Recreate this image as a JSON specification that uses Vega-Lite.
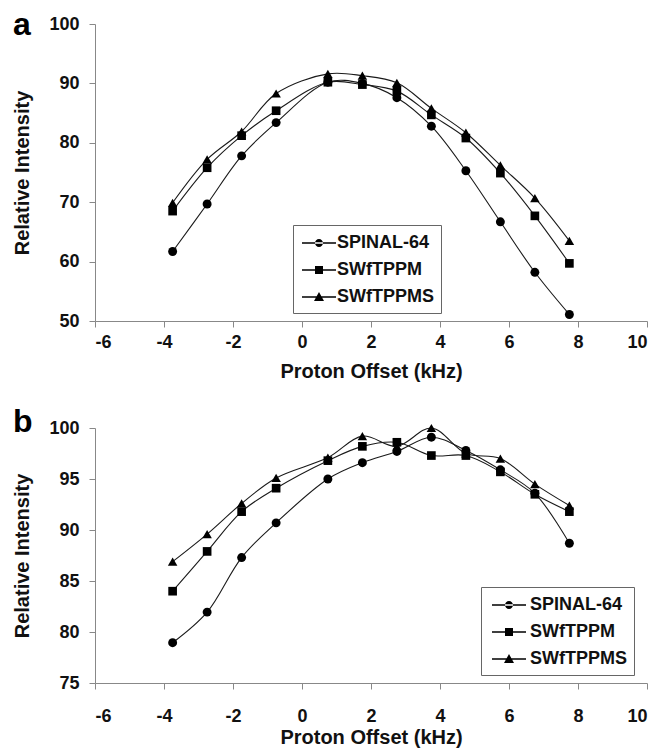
{
  "$schema": "https://vega.github.io/schema/vega-lite/v6.json",
  "padding": {"left": 12, "top": 9, "right": 5, "bottom": 2},
  "background": "white",
  "datasets": {
    "panelA": [
      {"x": -3.75, "y": 61.7, "series": "SPINAL-64"},
      {"x": -2.75, "y": 69.7, "series": "SPINAL-64"},
      {"x": -1.75, "y": 77.8, "series": "SPINAL-64"},
      {"x": -0.75, "y": 83.4, "series": "SPINAL-64"},
      {"x": 0.75, "y": 90.2, "series": "SPINAL-64"},
      {"x": 1.75, "y": 90.0, "series": "SPINAL-64"},
      {"x": 2.75, "y": 87.6, "series": "SPINAL-64"},
      {"x": 3.75, "y": 82.8, "series": "SPINAL-64"},
      {"x": 4.75, "y": 75.3, "series": "SPINAL-64"},
      {"x": 5.75, "y": 66.7, "series": "SPINAL-64"},
      {"x": 6.75, "y": 58.2, "series": "SPINAL-64"},
      {"x": 7.75, "y": 51.1, "series": "SPINAL-64"},
      {"x": -3.75, "y": 68.5, "series": "SWfTPPM"},
      {"x": -2.75, "y": 75.8, "series": "SWfTPPM"},
      {"x": -1.75, "y": 81.2, "series": "SWfTPPM"},
      {"x": -0.75, "y": 85.4, "series": "SWfTPPM"},
      {"x": 0.75, "y": 90.2, "series": "SWfTPPM"},
      {"x": 1.75, "y": 89.8, "series": "SWfTPPM"},
      {"x": 2.75, "y": 88.7, "series": "SWfTPPM"},
      {"x": 3.75, "y": 84.7, "series": "SWfTPPM"},
      {"x": 4.75, "y": 80.8, "series": "SWfTPPM"},
      {"x": 5.75, "y": 74.9, "series": "SWfTPPM"},
      {"x": 6.75, "y": 67.7, "series": "SWfTPPM"},
      {"x": 7.75, "y": 59.7, "series": "SWfTPPM"},
      {"x": -3.75, "y": 69.9, "series": "SWfTPPMS"},
      {"x": -2.75, "y": 77.2, "series": "SWfTPPMS"},
      {"x": -1.75, "y": 81.9, "series": "SWfTPPMS"},
      {"x": -0.75, "y": 88.3, "series": "SWfTPPMS"},
      {"x": 0.75, "y": 91.6, "series": "SWfTPPMS"},
      {"x": 1.75, "y": 91.3, "series": "SWfTPPMS"},
      {"x": 2.75, "y": 90.1, "series": "SWfTPPMS"},
      {"x": 3.75, "y": 85.8, "series": "SWfTPPMS"},
      {"x": 4.75, "y": 81.7, "series": "SWfTPPMS"},
      {"x": 5.75, "y": 76.2, "series": "SWfTPPMS"},
      {"x": 6.75, "y": 70.7, "series": "SWfTPPMS"},
      {"x": 7.75, "y": 63.5, "series": "SWfTPPMS"}
    ],
    "panelB": [
      {"x": -3.75, "y": 78.95, "series": "SPINAL-64"},
      {"x": -2.75, "y": 81.95, "series": "SPINAL-64"},
      {"x": -1.75, "y": 87.3, "series": "SPINAL-64"},
      {"x": -0.75, "y": 90.7, "series": "SPINAL-64"},
      {"x": 0.75, "y": 95.0, "series": "SPINAL-64"},
      {"x": 1.75, "y": 96.6, "series": "SPINAL-64"},
      {"x": 2.75, "y": 97.7, "series": "SPINAL-64"},
      {"x": 3.75, "y": 99.1, "series": "SPINAL-64"},
      {"x": 4.75, "y": 97.8, "series": "SPINAL-64"},
      {"x": 5.75, "y": 95.9, "series": "SPINAL-64"},
      {"x": 6.75, "y": 93.6, "series": "SPINAL-64"},
      {"x": 7.75, "y": 88.7, "series": "SPINAL-64"},
      {"x": -3.75, "y": 84.0, "series": "SWfTPPM"},
      {"x": -2.75, "y": 87.9, "series": "SWfTPPM"},
      {"x": -1.75, "y": 91.8, "series": "SWfTPPM"},
      {"x": -0.75, "y": 94.1, "series": "SWfTPPM"},
      {"x": 0.75, "y": 96.8, "series": "SWfTPPM"},
      {"x": 1.75, "y": 98.2, "series": "SWfTPPM"},
      {"x": 2.75, "y": 98.6, "series": "SWfTPPM"},
      {"x": 3.75, "y": 97.3, "series": "SWfTPPM"},
      {"x": 4.75, "y": 97.3, "series": "SWfTPPM"},
      {"x": 5.75, "y": 95.7, "series": "SWfTPPM"},
      {"x": 6.75, "y": 93.5, "series": "SWfTPPM"},
      {"x": 7.75, "y": 91.8, "series": "SWfTPPM"},
      {"x": -3.75, "y": 86.9, "series": "SWfTPPMS"},
      {"x": -2.75, "y": 89.6, "series": "SWfTPPMS"},
      {"x": -1.75, "y": 92.6, "series": "SWfTPPMS"},
      {"x": -0.75, "y": 95.1, "series": "SWfTPPMS"},
      {"x": 0.75, "y": 97.1, "series": "SWfTPPMS"},
      {"x": 1.75, "y": 99.2, "series": "SWfTPPMS"},
      {"x": 2.75, "y": 98.2, "series": "SWfTPPMS"},
      {"x": 3.75, "y": 100.0, "series": "SWfTPPMS"},
      {"x": 4.75, "y": 97.5, "series": "SWfTPPMS"},
      {"x": 5.75, "y": 97.0, "series": "SWfTPPMS"},
      {"x": 6.75, "y": 94.5, "series": "SWfTPPMS"},
      {"x": 7.75, "y": 92.4, "series": "SWfTPPMS"}
    ]
  },
  "config": {
    "view": {"stroke": null},
    "font": "Liberation Sans",
    "axis": {
      "grid": false,
      "domainColor": "#888888",
      "tickColor": "#888888",
      "tickSize": 6,
      "labelFont": "Liberation Sans",
      "labelFontSize": 18,
      "labelFontWeight": "bold",
      "labelColor": "#111111",
      "labelExpr": "toString(datum.value)",
      "titleFont": "Liberation Sans",
      "titleFontSize": 20,
      "titleFontWeight": "bold",
      "titleColor": "#111111"
    },
    "legend": {
      "title": null,
      "labelFont": "Liberation Sans",
      "labelFontSize": 18,
      "labelFontWeight": "bold",
      "labelColor": "#111111",
      "fillColor": "white",
      "strokeColor": "#666666",
      "padding": 7,
      "rowPadding": 7,
      "symbolOffset": 8,
      "labelOffset": 7,
      "symbolOpacity": 1,
      "symbolFillColor": "#000000"
    }
  },
  "spacing": 25,
  "resolve": {"scale": {"shape": "independent"}, "legend": {"shape": "independent"}},
  "vconcat": [
    {
      "title": {"text": "a", "anchor": "start", "frame": "bounds", "fontSize": 32, "fontWeight": "bold", "font": "Liberation Sans", "color": "black", "offset": -27},
      "width": 552,
      "height": 297,
      "data": {"name": "panelA"},
      "encoding": {
        "x": {"field": "x", "type": "quantitative", "scale": {"domain": [-6, 10], "nice": false},
              "axis": {"values": [-6, -4, -2, 0, 2, 4, 6, 8, 10], "title": "Proton Offset (kHz)", "labelPadding": 6, "titlePadding": 10}},
        "y": {"field": "y", "type": "quantitative", "scale": {"domain": [50, 100], "nice": false, "zero": false},
              "axis": {"values": [50, 60, 70, 80, 90, 100], "title": "Relative Intensity", "labelPadding": 10, "titlePadding": 16}}
      },
      "layer": [
        {"mark": {"type": "line", "interpolate": "catmull-rom", "color": "#1a1a1a", "strokeWidth": 1.1},
         "encoding": {"detail": {"field": "series"}}},
        {"transform": [{"filter": "datum.series === 'SPINAL-64'"}],
         "mark": {"type": "point", "filled": true, "color": "#000000", "opacity": 1, "size": 80, "shape": "circle"}},
        {"transform": [{"filter": "datum.series === 'SWfTPPM'"}],
         "mark": {"type": "point", "filled": true, "color": "#000000", "opacity": 1, "size": 75, "shape": "square"}},
        {"transform": [{"filter": "datum.series === 'SWfTPPMS'"}],
         "mark": {"type": "point", "filled": true, "color": "#000000", "opacity": 1, "size": 90, "shape": "triangle-up"}},
        {"mark": {"type": "point", "filled": true, "color": "#000000", "opacity": 0, "size": 400},
         "encoding": {"shape": {"field": "series",
            "scale": {"domain": ["SPINAL-64", "SWfTPPM", "SWfTPPMS"], "range": [
              "M-1.7,-0.07L1.7,-0.07L1.7,0.07L-1.7,0.07ZM-0.4,0A0.4,0.4 0 1,0 0.4,0A0.4,0.4 0 1,0 -0.4,0Z",
              "M-1.7,-0.07L1.7,-0.07L1.7,0.07L-1.7,0.07ZM-0.4,-0.4L0.4,-0.4L0.4,0.4L-0.4,0.4Z",
              "M-1.7,-0.07L1.7,-0.07L1.7,0.07L-1.7,0.07ZM0,-0.5L0.5,0.4L-0.5,0.4Z"]},
            "legend": {"orient": "none", "legendX": 198, "legendY": 201, "symbolSize": 400,
              "encode": {"symbols": {"opacity": {"value": 1}, "fill": {"value": "#000000"}, "fillOpacity": {"value": 1}}}}}}}
      ]
    },
    {
      "title": {"text": "b", "anchor": "start", "frame": "bounds", "fontSize": 32, "fontWeight": "bold", "font": "Liberation Sans", "color": "black", "offset": -20},
      "width": 552,
      "height": 255,
      "data": {"name": "panelB"},
      "encoding": {
        "x": {"field": "x", "type": "quantitative", "scale": {"domain": [-6, 10], "nice": false},
              "axis": {"values": [-6, -4, -2, 0, 2, 4, 6, 8, 10], "title": "Proton Offset (kHz)", "labelPadding": 18, "titlePadding": 2}},
        "y": {"field": "y", "type": "quantitative", "scale": {"domain": [75, 100], "nice": false, "zero": false},
              "axis": {"values": [75, 80, 85, 90, 95, 100], "title": "Relative Intensity", "labelPadding": 10, "titlePadding": 16}}
      },
      "layer": [
        {"mark": {"type": "line", "interpolate": "catmull-rom", "color": "#1a1a1a", "strokeWidth": 1.1},
         "encoding": {"detail": {"field": "series"}}},
        {"transform": [{"filter": "datum.series === 'SPINAL-64'"}],
         "mark": {"type": "point", "filled": true, "color": "#000000", "opacity": 1, "size": 80, "shape": "circle"}},
        {"transform": [{"filter": "datum.series === 'SWfTPPM'"}],
         "mark": {"type": "point", "filled": true, "color": "#000000", "opacity": 1, "size": 75, "shape": "square"}},
        {"transform": [{"filter": "datum.series === 'SWfTPPMS'"}],
         "mark": {"type": "point", "filled": true, "color": "#000000", "opacity": 1, "size": 90, "shape": "triangle-up"}},
        {"mark": {"type": "point", "filled": true, "color": "#000000", "opacity": 0, "size": 400},
         "encoding": {"shape": {"field": "series",
            "scale": {"domain": ["SPINAL-64", "SWfTPPM", "SWfTPPMS"], "range": [
              "M-1.7,-0.07L1.7,-0.07L1.7,0.07L-1.7,0.07ZM-0.4,0A0.4,0.4 0 1,0 0.4,0A0.4,0.4 0 1,0 -0.4,0Z",
              "M-1.7,-0.07L1.7,-0.07L1.7,0.07L-1.7,0.07ZM-0.4,-0.4L0.4,-0.4L0.4,0.4L-0.4,0.4Z",
              "M-1.7,-0.07L1.7,-0.07L1.7,0.07L-1.7,0.07ZM0,-0.5L0.5,0.4L-0.5,0.4Z"]},
            "legend": {"orient": "none", "legendX": 386, "legendY": 159, "symbolSize": 400, "symbolOffset": 10, "labelOffset": 10,
              "encode": {"symbols": {"opacity": {"value": 1}, "fill": {"value": "#000000"}, "fillOpacity": {"value": 1}}}}}}}
      ]
    }
  ]
}
